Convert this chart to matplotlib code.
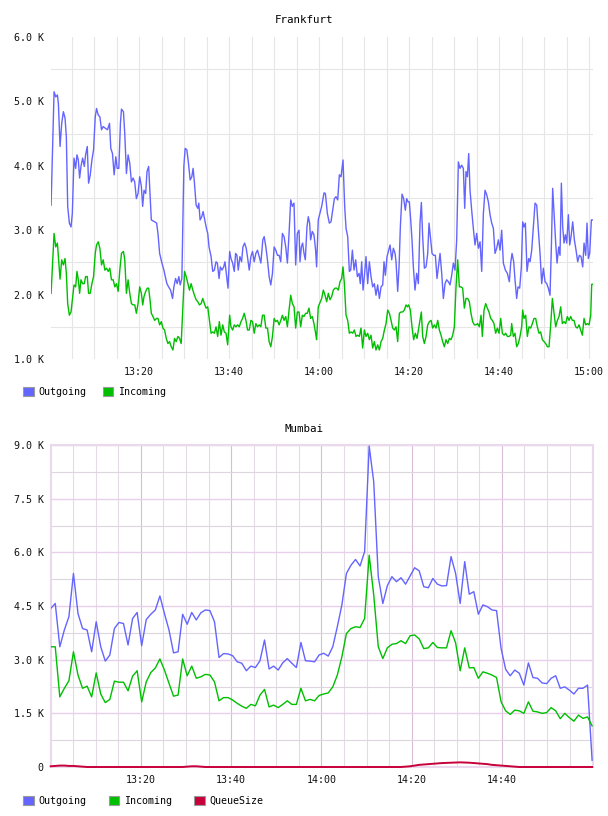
import numpy as np
import matplotlib
matplotlib.use("Agg")
import matplotlib.pyplot as plt
from matplotlib.ticker import FixedLocator, FuncFormatter
from matplotlib.patches import Patch

# ---------------- data (minutes after 13:00, values in thousands) ----------------
frankfurt_outgoing = [
    (0.42,3.39),(1.08,5.15),(1.45,5.07),(1.82,5.10),(2.04,4.97),(2.41,4.30),(2.78,4.66),(3.15,4.84),
    (3.52,4.74),(3.81,4.45),(4.11,3.37),(4.48,3.11),(4.85,3.05),(5.14,3.26),(5.51,4.12),(5.88,3.96),
    (6.17,4.17),(6.47,4.09),(6.76,3.81),(7.06,3.99),(7.43,4.12),(7.80,3.99),(8.09,4.17),(8.46,4.30),
    (8.75,3.73),(9.12,3.86),(9.49,4.09),(9.86,4.25),(10.23,4.76),(10.52,4.89),(10.89,4.79),(11.26,4.76),
    (11.63,4.56),(12.00,4.61),(12.52,4.58),(12.96,4.56),(13.40,4.66),(13.69,4.27),(14.06,4.19),(14.43,3.86),
    (14.80,4.14),(15.10,3.96),(15.47,3.96),(15.83,4.66),(16.06,4.88),(16.50,4.84),(16.79,4.50),(17.16,3.88),
    (17.53,4.17),(17.90,4.04),(18.27,3.75),(18.64,3.81),(19.00,3.75),(19.37,3.49),(19.74,3.57),(20.11,3.83),
    (20.48,3.68),(20.77,3.37),(21.07,3.62),(21.44,3.57),(21.73,3.91),(22.10,3.99),(22.40,3.57),(22.69,3.16),
    (23.43,3.13),(23.87,3.11),(24.17,2.95),(24.54,2.64),(25.05,2.49),(25.49,2.38),(25.79,2.28),(26.16,2.17),
    (26.53,2.12),(26.97,2.07),(27.41,1.94),(27.71,2.12),(28.08,2.25),(28.44,2.17),(28.81,2.28),(29.11,2.15),
    (29.48,2.25),(29.92,3.99),(30.21,4.27),(30.58,4.25),(30.95,4.04),(31.32,3.78),(31.69,3.83),(31.98,3.96),
    (32.28,3.73),(32.65,3.39),(33.02,3.34),(33.24,3.42),(33.53,3.16),(33.90,3.21),(34.20,3.29),(34.57,3.16),
    (34.93,3.03),(35.23,2.95),(35.52,2.74),(35.97,2.59),(36.34,2.36),(36.70,2.38),(37.07,2.51),(37.37,2.49),
    (37.74,2.25),(38.03,2.43),(38.40,2.38),(38.77,2.43),(39.06,2.51),(39.43,2.28),(39.73,2.10),(40.10,2.67),
    (40.39,2.56),(40.76,2.49),(41.13,2.36),(41.42,2.64),(41.72,2.61),(42.01,2.38),(42.38,2.59),(42.75,2.51),
    (43.05,2.74),(43.42,2.80),(43.78,2.72),(44.15,2.54),(44.45,2.38),(44.82,2.59),(45.18,2.67),(45.55,2.51),
    (45.92,2.64),(46.29,2.69),(46.66,2.59),(47.03,2.49),(47.47,2.85),(47.77,2.90),(48.14,2.74),(48.50,2.54),
    (48.87,2.28),(49.24,2.15),(49.61,2.33),(49.98,2.74),(50.35,2.69),(50.72,2.61),(51.09,2.61),(51.45,2.51),
    (51.82,2.95),(52.19,2.90),(52.56,2.74),(52.93,2.49),(53.30,2.95),(53.67,3.47),(54.04,3.37),(54.40,3.42),
    (54.77,2.46),(55.14,2.95),(55.51,3.00),(55.73,2.51),(56.03,2.74),(56.32,2.80),(56.62,2.64),(56.91,2.54),
    (57.28,3.05),(57.57,3.21),(57.87,3.11),(58.09,2.85),(58.46,2.98),(58.83,2.93),(59.20,2.69),(59.42,2.43),
    (59.79,3.16),(60.55,3.37),(61.07,3.58),(61.37,3.57),(61.81,3.26),(62.25,3.11),(62.62,3.13),(62.99,3.31),
    (63.37,3.49),(63.74,3.52),(64.11,3.47),(64.48,3.86),(64.85,3.83),(65.29,4.09),(65.66,3.37),(65.96,3.03),
    (66.33,2.90),(66.70,2.36),(67.00,2.38),(67.37,2.69),(67.74,2.38),(68.11,2.54),(68.48,2.28),(68.85,2.33),
    (69.14,2.17),(69.44,2.51),(69.74,2.07),(70.03,2.28),(70.40,2.59),(70.77,2.17),(71.14,2.51),(71.51,2.28),
    (71.88,2.12),(72.25,2.17),(72.62,1.99),(72.99,2.15),(73.37,1.94),(73.74,2.12),(74.11,2.15),(74.40,2.51),
    (74.70,2.30),(75.07,2.59),(75.44,2.69),(75.74,2.77),(76.11,2.54),(76.48,2.72),(76.85,2.64),(77.07,2.51),
    (77.44,2.05),(77.74,2.43),(78.03,3.05),(78.40,3.56),(78.77,3.49),(79.14,3.31),(79.44,3.49),(79.74,3.44),
    (80.03,3.44),(80.33,3.16),(80.62,2.85),(80.92,2.43),(81.29,2.07),(81.66,2.33),(82.03,2.17),(82.40,3.11),
    (82.70,3.43),(82.99,2.90),(83.37,2.41),(83.74,2.43),(84.11,2.64),(84.40,3.11),(84.77,2.85),(85.07,2.64),
    (85.44,2.61),(85.81,2.61),(86.18,2.25),(86.48,2.43),(86.85,2.64),(87.22,2.33),(87.59,1.94),(87.96,2.17),
    (88.33,2.23),(88.70,2.20),(89.07,2.15),(89.44,2.30),(89.81,2.49),(90.18,2.38),(90.55,2.85),(90.92,4.06),
    (91.29,3.96),(91.66,4.01),(92.03,3.96),(92.33,3.34),(92.62,3.91),(92.92,3.83),(93.22,4.19),(93.51,3.62),
    (93.88,3.31),(94.25,3.03),(94.62,2.77),(94.99,2.95),(95.37,2.72),(95.74,2.82),(96.11,2.36),(96.48,3.26),
    (96.85,3.62),(97.22,3.55),(97.59,3.44),(97.96,3.24),(98.33,3.11),(98.70,3.03),(99.07,2.64),(99.44,2.72),
    (99.81,2.85),(100.18,2.69),(100.55,3.00),(100.92,2.49),(101.37,2.38),(101.81,2.33),(102.25,2.20),(102.55,2.49),
    (102.85,2.64),(103.22,2.51),(103.51,2.23),(103.88,1.94),(104.18,2.12),(104.55,2.10),(104.92,2.43),(105.22,3.13),
    (105.51,3.05),(105.81,3.11),(106.18,2.36),(106.55,2.56),(106.85,2.51),(107.22,2.69),(107.59,3.05),(107.96,3.42),
    (108.33,3.39),(108.70,3.00),(109.07,2.64),(109.44,2.17),(109.81,2.41),(110.18,2.20),(110.55,2.17),(110.92,2.10),
    (111.29,1.99),(111.59,2.74),(111.88,3.65),(112.18,3.26),(112.55,2.80),(112.85,2.49),(113.22,2.74),(113.51,2.61),
    (113.81,3.73),(114.11,3.05),(114.40,2.80),(114.70,2.93),(115.00,2.80),(115.37,3.24),(115.66,2.77),(115.96,2.90),
    (116.33,3.13),(116.70,2.85),(117.07,2.69),(117.44,2.51),(117.81,2.61),(118.18,2.59),(118.55,2.43),(118.85,2.80),
    (119.22,2.61),(119.51,3.11),(119.81,2.56),(120.11,2.64),(120.48,3.16),(120.77,3.16),
]

frankfurt_incoming = [
    (0.42,2.02),(1.08,2.95),(1.45,2.74),(1.82,2.80),(2.41,2.24),(2.78,2.54),(3.15,2.46),(3.52,2.56),
    (3.81,2.33),(4.11,1.86),(4.48,1.68),(4.85,1.73),(5.14,1.92),(5.51,2.15),(5.88,2.12),(6.17,2.36),
    (6.47,2.23),(6.76,2.02),(7.06,2.23),(7.43,2.17),(7.80,2.17),(8.09,2.28),(8.46,2.28),(8.75,2.02),
    (9.12,2.02),(9.49,2.17),(9.86,2.28),(10.23,2.64),(10.52,2.77),(10.89,2.82),(11.26,2.72),(11.63,2.46),
    (12.00,2.54),(12.37,2.38),(12.74,2.41),(13.11,2.36),(13.47,2.41),(13.84,2.23),(14.21,2.23),(14.58,2.12),
    (14.95,2.17),(15.32,2.05),(15.69,2.38),(16.06,2.64),(16.50,2.67),(16.79,2.54),(17.16,2.02),(17.53,2.23),
    (17.90,2.02),(18.27,1.86),(18.64,1.84),(19.01,1.84),(19.37,1.71),(19.74,1.86),(20.11,2.12),(20.48,2.02),
    (20.78,1.84),(21.07,1.97),(21.44,2.05),(21.81,2.10),(22.10,2.10),(22.40,1.92),(22.69,1.71),(23.06,1.66),
    (23.43,1.60),(23.87,1.63),(24.17,1.63),(24.54,1.53),(24.91,1.58),(25.27,1.48),(25.64,1.45),(26.01,1.32),
    (26.38,1.24),(26.75,1.27),(27.12,1.19),(27.49,1.14),(27.86,1.32),(28.22,1.27),(28.59,1.35),(28.96,1.32),
    (29.33,1.24),(29.70,1.81),(30.07,2.36),(30.44,2.28),(30.81,2.17),(31.17,2.07),(31.54,2.17),(31.91,2.07),
    (32.28,1.99),(32.65,1.92),(33.02,1.89),(33.39,1.84),(33.76,1.86),(34.12,1.94),(34.49,1.86),(34.86,1.79),
    (35.23,1.81),(35.60,1.60),(35.97,1.40),(36.34,1.42),(36.71,1.40),(37.07,1.50),(37.44,1.35),(37.81,1.58),
    (38.18,1.37),(38.55,1.53),(38.92,1.42),(39.29,1.40),(39.66,1.22),(40.10,1.68),(40.39,1.50),(40.76,1.45),
    (41.13,1.53),(41.50,1.50),(41.87,1.53),(42.24,1.50),(42.61,1.58),(42.97,1.63),(43.34,1.71),(43.71,1.60),
    (44.08,1.45),(44.45,1.45),(44.82,1.60),(45.19,1.58),(45.56,1.40),(45.92,1.55),(46.29,1.50),(46.66,1.53),
    (47.03,1.50),(47.40,1.68),(47.77,1.68),(48.14,1.48),(48.51,1.48),(48.87,1.27),(49.24,1.19),(49.61,1.35),
    (49.98,1.63),(50.35,1.58),(50.72,1.60),(51.09,1.53),(51.46,1.60),(51.82,1.68),(52.19,1.60),(52.56,1.66),
    (52.93,1.50),(53.30,1.76),(53.67,1.99),(54.04,1.86),(54.41,1.81),(54.77,1.48),(55.14,1.73),(55.51,1.73),
    (55.88,1.50),(56.25,1.68),(56.62,1.66),(56.99,1.71),(57.36,1.71),(57.72,1.79),(58.09,1.63),(58.46,1.66),
    (58.83,1.55),(59.20,1.40),(59.42,1.30),(59.79,1.81),(60.55,1.94),(60.92,2.07),(61.29,1.99),(61.66,1.89),
    (62.03,2.02),(62.40,1.92),(62.77,1.97),(63.14,2.07),(63.51,2.10),(63.88,2.10),(64.25,2.07),(64.62,2.20),
    (64.99,2.25),(65.29,2.43),(65.59,2.17),(65.96,1.68),(66.33,1.60),(66.70,1.40),(67.07,1.42),(67.44,1.40),
    (67.81,1.45),(68.18,1.35),(68.55,1.37),(68.92,1.35),(69.29,1.48),(69.66,1.17),(70.03,1.45),(70.40,1.35),
    (70.77,1.40),(71.14,1.30),(71.51,1.37),(71.88,1.17),(72.25,1.27),(72.62,1.14),(72.99,1.22),(73.37,1.14),
    (73.74,1.27),(74.11,1.32),(74.48,1.45),(74.85,1.55),(75.22,1.76),(75.59,1.71),(75.96,1.60),(76.33,1.48),
    (76.70,1.45),(77.07,1.50),(77.44,1.27),(77.81,1.71),(78.18,1.73),(78.55,1.73),(78.92,1.76),(79.29,1.84),
    (79.59,1.81),(79.88,1.84),(80.25,1.76),(80.62,1.50),(80.99,1.30),(81.36,1.40),(81.73,1.32),(82.11,1.48),
    (82.40,1.60),(82.70,1.73),(82.99,1.35),(83.37,1.24),(83.74,1.35),(84.11,1.53),(84.48,1.58),(84.85,1.60),
    (85.22,1.48),(85.59,1.53),(85.96,1.48),(86.33,1.60),(86.70,1.45),(87.07,1.37),(87.44,1.27),(87.81,1.19),
    (88.18,1.30),(88.55,1.24),(88.92,1.32),(89.29,1.30),(89.66,1.37),(90.03,1.50),(90.40,2.12),(90.77,2.54),
    (91.14,2.12),(91.51,2.12),(91.88,2.10),(92.25,1.79),(92.62,1.94),(92.99,1.94),(93.36,1.89),(93.73,1.71),
    (94.10,1.58),(94.47,1.53),(94.84,1.53),(95.21,1.55),(95.59,1.50),(95.96,1.68),(96.25,1.35),(96.62,1.76),
    (96.99,1.86),(97.36,1.79),(97.73,1.73),(98.10,1.63),(98.47,1.60),(98.84,1.55),(99.21,1.40),(99.58,1.48),
    (99.96,1.40),(100.33,1.63),(100.70,1.40),(101.07,1.37),(101.44,1.40),(101.81,1.35),(102.18,1.35),(102.55,1.37),
    (102.77,1.55),(103.14,1.35),(103.51,1.40),(103.88,1.19),(104.25,1.24),(104.62,1.35),(104.99,1.50),(105.22,1.76),
    (105.51,1.63),(105.88,1.68),(106.25,1.35),(106.62,1.50),(106.99,1.48),(107.36,1.55),(107.73,1.63),(108.10,1.63),
    (108.47,1.50),(108.84,1.40),(109.21,1.42),(109.59,1.30),(109.96,1.27),(110.33,1.24),(110.70,1.19),(111.07,1.19),
    (111.44,1.53),(111.81,1.94),(112.18,1.71),(112.55,1.50),(112.92,1.60),(113.29,1.66),(113.66,1.81),(114.03,1.55),
    (114.40,1.58),(114.77,1.55),(115.14,1.66),(115.51,1.60),(115.88,1.66),(116.25,1.60),(116.62,1.60),(116.99,1.50),
    (117.36,1.48),(117.73,1.53),(118.10,1.45),(118.47,1.37),(118.85,1.63),(119.22,1.53),(119.59,1.55),(119.96,1.53),
    (120.33,1.68),(120.55,2.16),(120.92,2.16),
]

# Mumbai: one sample per ~60.5 s starting 13:00
mumbai_step_min = 120.0 / 119.0
mumbai_outgoing = [
    4.43,4.57,3.36,3.83,4.20,5.41,4.29,3.87,3.83,3.22, 4.06,3.36,2.96,3.13,3.87,4.04,4.01,3.41,4.15,4.32,
    3.39,4.12,4.27,4.39,4.78,4.29,3.83,3.19,3.22,4.27, 3.99,4.32,4.11,4.31,4.39,4.37,4.06,3.06,3.17,3.16,
    3.11,2.94,2.90,2.69,2.82,2.78,2.97,3.55,2.74,2.82, 2.71,2.91,3.03,2.90,2.78,3.48,2.97,2.96,2.94,3.13,
    3.18,3.10,3.36,3.92,4.53,5.41,5.64,5.80,5.62,6.02, 8.97,7.97,5.32,4.57,5.07,5.32,5.18,5.29,5.11,5.34,
    5.57,5.48,5.04,5.01,5.27,5.11,5.06,5.07,5.88,5.41, 4.57,5.74,4.83,4.90,4.27,4.53,4.48,4.39,4.37,3.31,
    2.73,2.55,2.71,2.62,2.29,2.91,2.50,2.48,2.35,2.33, 2.48,2.55,2.20,2.24,2.15,2.04,2.20,2.20,2.29,0.19,
]
mumbai_incoming = [
    3.36,3.36,1.96,2.20,2.41,3.22,2.57,2.20,2.26,1.96, 2.63,2.04,1.80,1.89,2.40,2.37,2.37,2.13,2.54,2.69,
    1.82,2.38,2.64,2.77,3.02,2.71,2.34,1.98,2.01,3.02, 2.55,2.82,2.48,2.52,2.59,2.57,2.38,1.85,1.94,1.94,
    1.87,1.78,1.70,1.64,1.75,1.71,2.01,2.17,1.68,1.73, 1.66,1.75,1.85,1.75,1.75,2.20,1.85,1.89,1.85,2.00,
    2.04,2.07,2.24,2.57,3.08,3.73,3.87,3.92,3.90,4.15, 5.92,4.81,3.36,3.03,3.33,3.43,3.45,3.53,3.45,3.67,
    3.69,3.58,3.31,3.33,3.48,3.34,3.33,3.33,3.81,3.47, 2.69,3.33,2.77,2.78,2.48,2.66,2.62,2.57,2.50,1.82,
    1.57,1.47,1.59,1.57,1.50,1.82,1.56,1.54,1.50,1.52, 1.66,1.57,1.35,1.50,1.38,1.28,1.45,1.36,1.40,1.15,
]
mumbai_queue = (
    [0.02,0.03,0.04,0.04,0.03,0.03,0.02,0.01] + [0.0]*22 + [0.01,0.02,0.02,0.01,0.0] + [0.0]*43 +
    [0.01,0.02,0.04,0.06,0.07,0.08,0.09,0.10,0.11,0.115,0.12,0.125,0.13,0.125,0.12,0.11,0.10,0.09,
     0.08,0.06,0.05,0.04,0.03,0.02,0.01] + [0.0]*17
)

series_names_fra = ["Outgoing", "Incoming"]
series_names_mum = ["Outgoing", "Incoming", "QueueSize"]
time_ticks_fra = [20, 40, 60, 80, 100, 120]
time_ticks_mum = [20, 40, 60, 80, 100]

# ---------------- style ----------------
COL_OUT = "#6464FF"
COL_IN = "#00BE00"
COL_Q = "#C8003A"
FONT = "DejaVu Sans Mono"
plt.rcParams["font.family"] = [FONT, "DejaVu Sans"]

W, H = 608, 816
fig = plt.figure(figsize=(W / 100, H / 100), dpi=100)
fig.patch.set_facecolor("white")


def rect(l, t, r, b):
    return [l / W, 1 - b / H, (r - l) / W, (b - t) / H]


def hhmm(m, pos=None):
    m = int(round(m))
    return f"{13 + m // 60}:{m % 60:02d}"


# ---------------- Frankfurt ----------------
ax1 = fig.add_axes(rect(51, 37, 593, 359))
ft, fo = zip(*frankfurt_outgoing)
it, iv = zip(*frankfurt_incoming)
ax1.plot(ft, fo, color=COL_OUT, lw=1.0, zorder=3)
ax1.plot(it, iv, color=COL_IN, lw=1.0, zorder=3)
ax1.set_xlim(0.4, 120.84)
ax1.set_ylim(1.0, 6.0)
ax1.xaxis.set_major_locator(FixedLocator(time_ticks_fra))
ax1.xaxis.set_minor_locator(FixedLocator(np.arange(5, 121, 5)))
ax1.xaxis.set_major_formatter(FuncFormatter(hhmm))
ax1.yaxis.set_major_locator(FixedLocator([1, 2, 3, 4, 5, 6]))
ax1.yaxis.set_minor_locator(FixedLocator([1.5, 2.5, 3.5, 4.5, 5.5]))
ax1.yaxis.set_major_formatter(FuncFormatter(lambda v, p: f"{v:.1f} K"))
ax1.grid(which="both", axis="x", color="#E6E6E6", lw=0.8)
ax1.grid(which="minor", axis="y", color="#E6E6E6", lw=0.8)
for s in ax1.spines.values():
    s.set_visible(False)
ax1.tick_params(which="both", length=0, labelsize=7.2, colors="#111111")
ax1.tick_params(axis="x", pad=6)
ax1.tick_params(axis="y", pad=5)
ax1.set_axisbelow(True)
fig.text(0.5, 1 - 20 / H, "Frankfurt", ha="center", va="center", fontsize=7.8, family=FONT)
fig.legend(handles=[Patch(facecolor=c, edgecolor="#9A9A9A", linewidth=0.8, label=n)
                    for c, n in zip([COL_OUT, COL_IN], series_names_fra)],
           loc="center left", bbox_to_anchor=(23 / W, 1 - 392 / H), ncol=2, frameon=False,
           prop={"family": FONT, "size": 7.2}, handlelength=1.05, handleheight=1.05,
           handletextpad=0.5, columnspacing=1.6, borderpad=0, borderaxespad=0)

# ---------------- Mumbai ----------------
ax2 = fig.add_axes(rect(50.7, 445, 593, 767))
mt = np.arange(len(mumbai_outgoing)) * mumbai_step_min
ax2.plot(mt, mumbai_outgoing, color=COL_OUT, lw=1.0, zorder=3)
ax2.plot(mt, mumbai_incoming, color=COL_IN, lw=1.0, zorder=3)
ax2.plot(mt, mumbai_queue, color=COL_Q, lw=1.4, zorder=4, clip_on=False)
ax2.set_xlim(0, 120.2)
ax2.set_ylim(0, 9.0)
ax2.xaxis.set_major_locator(FixedLocator(time_ticks_mum))
ax2.xaxis.set_minor_locator(FixedLocator(np.arange(5, 121, 5)))
ax2.xaxis.set_major_formatter(FuncFormatter(hhmm))
ax2.yaxis.set_major_locator(FixedLocator(np.arange(0, 9.01, 1.5)))
ax2.yaxis.set_minor_locator(FixedLocator(np.arange(0.75, 9.0, 1.5)))
ax2.yaxis.set_major_formatter(FuncFormatter(lambda v, p: "0" if v == 0 else f"{v:.1f} K"))
ax2.grid(which="major", axis="x", color="#D8BCD9", lw=0.8)
ax2.grid(which="minor", axis="x", color="#E4DCE4", lw=0.8)
ax2.grid(which="major", axis="y", color="#E8CFEA", lw=1.0)
ax2.grid(which="minor", axis="y", color="#DED6DE", lw=0.8)
for s in ax2.spines.values():
    s.set_color("#EAD8EC")
    s.set_linewidth(1.5)
ax2.tick_params(which="both", length=0, labelsize=7.2, colors="#111111")
ax2.tick_params(axis="x", pad=6)
ax2.tick_params(axis="y", pad=5)
ax2.set_axisbelow(True)
fig.text(0.5, 1 - 429 / H, "Mumbai", ha="center", va="center", fontsize=7.8, family=FONT)
fig.legend(handles=[Patch(facecolor=c, edgecolor="#9A9A9A", linewidth=0.8, label=n)
                    for c, n in zip([COL_OUT, COL_IN, COL_Q], series_names_mum)],
           loc="center left", bbox_to_anchor=(23 / W, 1 - 801 / H), ncol=3, frameon=False,
           prop={"family": FONT, "size": 7.2}, handlelength=1.05, handleheight=1.05,
           handletextpad=0.5, columnspacing=2.2, borderpad=0, borderaxespad=0)

fig.savefig("out.png", dpi=100, facecolor="white")
